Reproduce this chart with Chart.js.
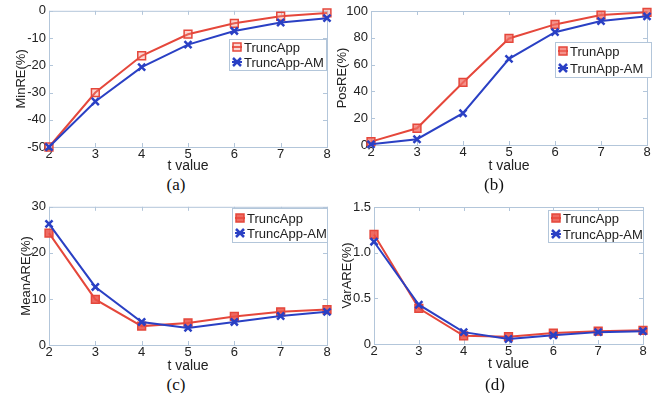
<!DOCTYPE html>
<html>
<head>
<meta charset="utf-8">
<script src="https://cdn.jsdelivr.net/npm/chart.js@4"></script>
<style>
  body { margin: 0; background: #fff; }
  #page { position: relative; width: 657px; height: 393px; overflow: hidden; background: #fff; }
  canvas { position: absolute; }
  .cap { position: absolute; font-family: "Liberation Serif", "DejaVu Serif", serif; font-size: 17px; color: #111; transform: translate(-50%, -50%); }
</style>
</head>
<body>
<div id="page">
  <canvas id="ca"></canvas>
  <canvas id="cb"></canvas>
  <canvas id="cc"></canvas>
  <canvas id="cd"></canvas>
  <div class="cap" style="left:176px;top:185px">(a)</div>
  <div class="cap" style="left:494px;top:185px">(b)</div>
  <div class="cap" style="left:176px;top:385px">(c)</div>
  <div class="cap" style="left:495px;top:385px">(d)</div>
</div>
<script>
// data
const tValues = [2, 3, 4, 5, 6, 7, 8];

const minreTrunc = [-50, -30, -16.5, -8.6, -4.6, -2, -0.8];
const minreAM    = [-50, -33.3, -20.7, -12.4, -7.4, -4.3, -2.7];

const posreTrunc = [2.5, 12.5, 46.7, 79.5, 90, 97, 99];
const posreAM    = [0.5, 4.3, 23.7, 64.3, 84.2, 92.5, 96];

const meanTrunc = [24.3, 9.9, 4.1, 4.8, 6.2, 7.2, 7.7];
const meanAM    = [26.3, 12.6, 5, 3.7, 5, 6.3, 7.2];

const varTrunc = [1.2, 0.39, 0.09, 0.08, 0.12, 0.14, 0.15];
const varAM    = [1.12, 0.43, 0.13, 0.055, 0.095, 0.13, 0.14];

const yRanges = {
    a: [-50, 0, 10],
    b: [0, 100, 20],
    c: [0, 30, 10],
    d: [0, 1.5, 0.5]
};

const RED = '#e5473b';
const BLUE = '#2a40c4';
const BOX = '#b3c6da';
const FONT = '"Liberation Sans", Arial, sans-serif';

// box + inward ticks, matlab style
const boxPlugin = {
    id: 'box',
    beforeDatasetsDraw(chart) {
        const {ctx, chartArea: a, scales} = chart;
        ctx.save();
        ctx.strokeStyle = BOX;
        ctx.lineWidth = 1;
        ctx.strokeRect(a.left + 0.5, a.top + 0.5, a.right - a.left, a.bottom - a.top);
        ctx.beginPath();
        scales.x.ticks.forEach((t, i) => {
            const x = Math.round(scales.x.getPixelForTick(i)) + 0.5;
            ctx.moveTo(x, a.bottom); ctx.lineTo(x, a.bottom - 4);
            ctx.moveTo(x, a.top); ctx.lineTo(x, a.top + 4);
        });
        scales.y.ticks.forEach((t, i) => {
            const y = Math.round(scales.y.getPixelForTick(i)) + 0.5;
            ctx.moveTo(a.left, y); ctx.lineTo(a.left + 4, y);
            ctx.moveTo(a.right, y); ctx.lineTo(a.right - 4, y);
        });
        ctx.stroke();
        ctx.restore();
    }
};

// boxed legend inside the axes
const boxLegend = {
    id: 'boxLegend',
    afterDraw(chart, args, opts) {
        const {ctx} = chart;
        const r = opts.rect;
        ctx.save();
        ctx.fillStyle = '#fff';
        ctx.fillRect(r.x, r.y, r.w, r.h);
        ctx.strokeStyle = BOX;
        ctx.lineWidth = 1;
        ctx.strokeRect(r.x + 0.5, r.y + 0.5, r.w, r.h);
        ctx.font = '13px ' + FONT;
        ctx.textBaseline = 'middle';
        chart.data.datasets.forEach((ds, i) => {
            const cy = r.y + opts.rows[i];
            const mx = r.x + 8;
            ctx.strokeStyle = ds.borderColor;
            ctx.lineWidth = 2;
            ctx.beginPath();
            ctx.moveTo(mx - 5, cy); ctx.lineTo(mx + 5, cy);
            ctx.stroke();
            if (ds.pointStyle === 'rect') {
                ctx.fillStyle = ds.pointBackgroundColor;
                ctx.fillRect(mx - 4, cy - 4, 8, 8);
                ctx.lineWidth = 1.5;
                ctx.strokeRect(mx - 4, cy - 4, 8, 8);
            } else {
                ctx.lineWidth = 2.5;
                ctx.beginPath();
                ctx.moveTo(mx - 4, cy - 4); ctx.lineTo(mx + 4, cy + 4);
                ctx.moveTo(mx + 4, cy - 4); ctx.lineTo(mx - 4, cy + 4);
                ctx.stroke();
            }
            ctx.fillStyle = '#222';
            ctx.fillText(ds.label, r.x + 15, cy + 1);
        });
        ctx.restore();
    }
};

function makePanel(id, pos, area, yTitlePad, yKey, yTitle, labels, redData, blueData, redFill, legendRect, legendRows) {
    const cv = document.getElementById(id);
    cv.style.left = pos.x + 'px';
    cv.style.top = pos.y + 'px';
    cv.width = pos.w;
    cv.height = pos.h;
    cv.style.width = pos.w + 'px';
    cv.style.height = pos.h + 'px';

    const yAxisW = area.l - pos.x;
    const xAxisH = pos.y + pos.h - area.b;
    const [ymin, ymax, ystep] = yRanges[yKey];

    return new Chart(cv, {
        type: 'line',
        data: {
            labels: tValues,
            datasets: [{
                label: labels[0],
                data: redData,
                borderColor: RED,
                backgroundColor: RED,
                borderWidth: 2,
                pointStyle: 'rect',
                pointRadius: 5.5,
                pointBorderWidth: 1.5,
                pointBackgroundColor: redFill,
                pointBorderColor: RED,
                tension: 0,
                clip: false,
                order: 1
            }, {
                label: labels[1],
                data: blueData,
                borderColor: BLUE,
                backgroundColor: BLUE,
                borderWidth: 2,
                pointStyle: 'crossRot',
                pointRadius: 5,
                pointBorderWidth: 2.5,
                pointBorderColor: BLUE,
                tension: 0,
                clip: false,
                order: 0
            }]
        },
        options: {
            responsive: false,
            animation: false,
            devicePixelRatio: 1,
            layout: {
                padding: { left: 0, top: area.t - pos.y, right: pos.x + pos.w - area.r, bottom: 0 }
            },
            plugins: {
                legend: { display: false },
                tooltip: { enabled: false },
                boxLegend: {
                    rect: { x: legendRect.x - pos.x, y: legendRect.y - pos.y, w: legendRect.w, h: legendRect.h },
                    rows: legendRows
                }
            },
            scales: {
                x: {
                    type: 'category',
                    offset: false,
                    grid: { display: false, drawTicks: false },
                    border: { display: false },
                    ticks: { padding: 0, color: '#222', font: { family: FONT, size: 13 }, maxRotation: 0 },
                    title: { display: true, text: 't value', color: '#222', font: { family: FONT, size: 14 }, padding: { top: 0, bottom: 0 } },
                    afterFit(s) { s.height = xAxisH; }
                },
                y: {
                    min: ymin,
                    max: ymax,
                    grid: { display: false, drawTicks: false },
                    border: { display: false },
                    ticks: { stepSize: ystep, padding: 3, color: '#222', font: { family: FONT, size: 13 } },
                    title: { display: true, text: yTitle, color: '#222', font: { family: FONT, size: 13 }, padding: { top: yTitlePad, bottom: 0 } },
                    afterFit(s) { s.width = yAxisW; }
                }
            }
        },
        plugins: [boxPlugin, boxLegend]
    });
}

makePanel('ca', { x: 0, y: 0, w: 335, h: 175 }, { l: 49, t: 10, r: 327, b: 147 }, 14, 'a', 'MinRE(%)',
    ['TruncApp', 'TruncApp-AM'], minreTrunc, minreAM, 'rgba(240,140,130,0.35)',
    { x: 229, y: 39, w: 97, h: 31 }, [8, 23]);

makePanel('cb', { x: 330, y: 0, w: 327, h: 175 }, { l: 371, t: 11, r: 647, b: 145 }, 5, 'b', 'PosRE(%)',
    ['TrunApp', 'TrunApp-AM'], posreTrunc, posreAM, 'rgba(240,110,100,0.75)',
    { x: 555, y: 42, w: 96, h: 35 }, [9, 26]);

makePanel('cc', { x: 0, y: 196, w: 335, h: 179 }, { l: 49, t: 206, r: 327, b: 345 }, 19, 'c', 'MeanARE(%)',
    ['TruncApp', 'TruncApp-AM'], meanTrunc, meanAM, 'rgba(235,80,70,0.85)',
    { x: 232, y: 208, w: 95, h: 34 }, [10, 25]);

makePanel('cd', { x: 330, y: 196, w: 327, h: 177 }, { l: 374, t: 207, r: 643, b: 344 }, 10, 'd', 'VarARE(%)',
    ['TruncApp', 'TruncApp-AM'], varTrunc, varAM, 'rgba(235,80,70,0.85)',
    { x: 548, y: 210, w: 95, h: 32 }, [8, 24]);
</script>
</body>
</html>
